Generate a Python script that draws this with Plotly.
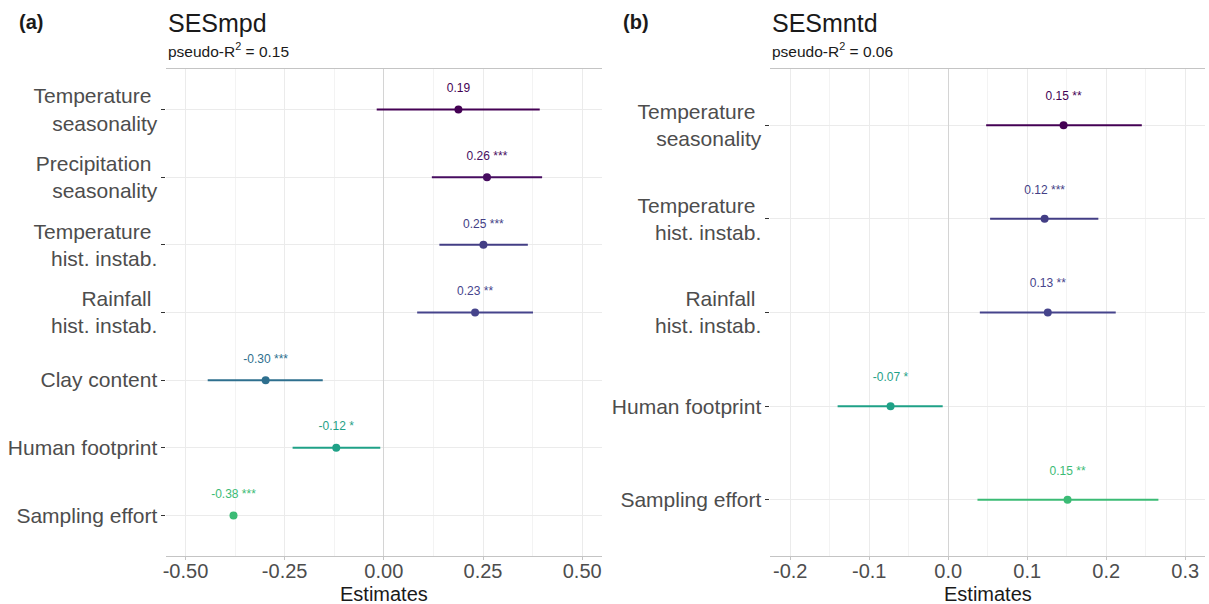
import plotly.graph_objects as go

# ---------------- data ----------------
terms_a = ["Temperature\u00a0<br>seasonality", "Precipitation\u00a0<br>seasonality", "Temperature\u00a0<br>hist. instab.",
           "Rainfall\u00a0<br>hist. instab.", "Clay content", "Human footprint", "Sampling effort"]
est_a = [0.188, 0.260, 0.251, 0.230, -0.298, -0.120, -0.379]
lo_a = [-0.018, 0.121, 0.140, 0.084, -0.444, -0.230, -0.385]
hi_a = [0.393, 0.399, 0.363, 0.376, -0.154, -0.009, -0.373]
labels_a = ["0.19", "0.26 ***", "0.25 ***", "0.23 **", "-0.30 ***", "-0.12 *", "-0.38 ***"]

terms_b = ["Temperature\u00a0<br>seasonality", "Temperature\u00a0<br>hist. instab.", "Rainfall\u00a0<br>hist. instab.",
           "Human footprint", "Sampling effort"]
est_b = [0.146, 0.122, 0.126, -0.073, 0.151]
lo_b = [0.048, 0.053, 0.040, -0.140, 0.037]
hi_b = [0.245, 0.190, 0.212, -0.007, 0.266]
labels_b = ["0.15 **", "0.12 ***", "0.13 **", "-0.07 *", "0.15 **"]

xticks_a = [-0.5, -0.25, 0.0, 0.25, 0.5]
xticktext_a = ["-0.50", "-0.25", "0.00", "0.25", "0.50"]
xticks_b = [-0.2, -0.1, 0.0, 0.1, 0.2, 0.3]
xticktext_b = ["-0.2", "-0.1", "0.0", "0.1", "0.2", "0.3"]

term_colors = {
    "Temperature\u00a0<br>seasonality": "#440154",
    "Precipitation\u00a0<br>seasonality": "#470d60",
    "Temperature\u00a0<br>hist. instab.": "#433e85",
    "Rainfall\u00a0<br>hist. instab.": "#46448c",
    "Clay content": "#2e6f8e",
    "Human footprint": "#1fa187",
    "Sampling effort": "#3bbb75",
}

FONT = "Liberation Sans, Arial, sans-serif"
GRID = "#ebebeb"
MINOR = "#f3f3f3"
TXT = "#4d4d4d"

fig = go.Figure()


def add_panel(terms, est, lo, hi, labels, xa, ya):
    n = len(terms)
    rows = [n - i for i in range(n)]
    for t, e, l, h, lab, r in zip(terms, est, lo, hi, labels, rows):
        c = term_colors[t]
        fig.add_trace(go.Scatter(
            x=[e], y=[r], mode="markers", xaxis=xa, yaxis=ya,
            marker=dict(color=c, size=8),
            error_x=dict(type="data", symmetric=False, array=[h - e], arrayminus=[e - l],
                         color=c, thickness=2, width=0),
            showlegend=False, hoverinfo="skip"))
        fig.add_trace(go.Scatter(
            x=[e], y=[r + 0.3], mode="text", text=[lab], xaxis=xa, yaxis=ya,
            textposition="middle center",
            textfont=dict(family=FONT, size=12, color=c),
            showlegend=False, hoverinfo="skip"))
    return rows


rows_a = add_panel(terms_a, est_a, lo_a, hi_a, labels_a, "x", "y")
rows_b = add_panel(terms_b, est_b, lo_b, hi_b, labels_b, "x2", "y2")

W, H = 1209, 604
ydom = [1 - 556 / H, 1 - 69 / H]

common_x = dict(showgrid=True, gridcolor=GRID, gridwidth=1, zeroline=True, zerolinecolor="#d4d4d4",
                zerolinewidth=1, showline=True, mirror=True, linecolor="#c4c4c4", linewidth=1,
                ticks="outside", ticklen=3, tickcolor="#c4c4c4", ticklabelstandoff=-6,
                tickfont=dict(family=FONT, size=20, color=TXT))
common_y = dict(showgrid=True, gridcolor=GRID, gridwidth=1, zeroline=False, showline=False,
                ticks="outside", ticklen=4, tickcolor="#333333",
                tickfont=dict(family=FONT, size=21, color=TXT))

fig.update_layout(
    width=W, height=H, margin=dict(l=0, r=0, t=0, b=0),
    paper_bgcolor="white", plot_bgcolor="white",
    font=dict(family=FONT),
    xaxis=dict(domain=[163 / W, 600 / W], range=[-0.548, 0.55], anchor="y",
               tickmode="array", tickvals=xticks_a, ticktext=xticktext_a,
               minor=dict(showgrid=True, gridcolor=MINOR, dtick=0.125, tick0=0.125, ticks=""),
               **common_x),
    yaxis=dict(domain=ydom, range=[0.4, len(terms_a) + 0.6], anchor="x",
               tickmode="array", tickvals=rows_a, ticktext=terms_a, **common_y),
    xaxis2=dict(domain=[769 / W, 1205 / W], range=[-0.225, 0.325], anchor="y2",
                tickmode="array", tickvals=xticks_b, ticktext=xticktext_b,
                minor=dict(showgrid=True, gridcolor=MINOR, dtick=0.05, tick0=0.05, ticks=""),
                **common_x),
    yaxis2=dict(domain=ydom, range=[0.4, len(terms_b) + 0.6], anchor="x2",
                tickmode="array", tickvals=rows_b, ticktext=terms_b, **common_y),
)

ann = []
for lab, xl in [("<b>(a)</b>", 13), ("<b>(b)</b>", 619)]:
    ann.append(dict(text=lab, x=xl / W, y=1 - 22 / H, xref="paper", yref="paper",
                    xanchor="left", yanchor="middle", showarrow=False,
                    font=dict(family=FONT, size=20, color="#1a1a1a")))
for title, sub, xl in [("SESmpd", "pseudo-R<sup>2</sup> = 0.15", 163),
                       ("SESmntd", "pseudo-R<sup>2</sup> = 0.06", 769)]:
    ann.append(dict(text=title, x=xl / W, y=1 - 23 / H, xref="paper", yref="paper",
                    xanchor="left", yanchor="middle", showarrow=False,
                    font=dict(family=FONT, size=25, color="#1a1a1a")))
    ann.append(dict(text=sub, x=xl / W, y=1 - 50 / H, xref="paper", yref="paper",
                    xanchor="left", yanchor="middle", showarrow=False,
                    font=dict(family=FONT, size=15.5, color="#1a1a1a")))
for xc in [(163 + 600) / 2, (769 + 1205) / 2]:
    ann.append(dict(text="Estimates", x=xc / W, y=1 - 594 / H, xref="paper", yref="paper",
                    xanchor="center", yanchor="middle", showarrow=False,
                    font=dict(family=FONT, size=20, color="#1a1a1a")))
fig.update_layout(annotations=ann)

fig.write_html("out.html")
